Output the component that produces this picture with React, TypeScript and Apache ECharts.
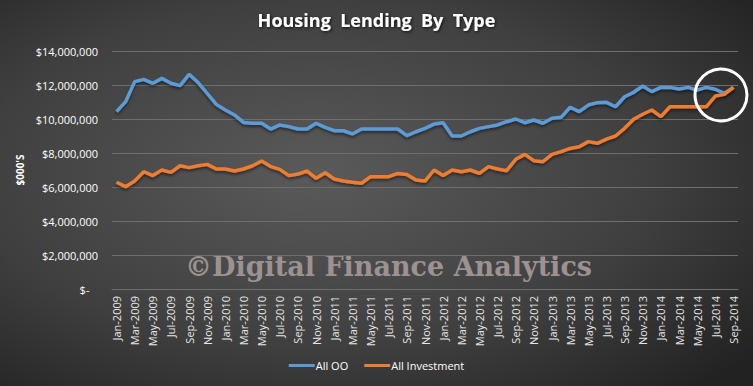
import React, { useEffect, useRef } from "react";
import * as echarts from "echarts";

const months = ["Jan", "Feb", "Mar", "Apr", "May", "Jun", "Jul", "Aug", "Sep", "Oct", "Nov", "Dec"];
const years = [2009, 2010, 2011, 2012, 2013, 2014];
const categories: string[] = [];
years.forEach((y) => months.forEach((m) => { if (!(y === 2014 && months.indexOf(m) > 8)) categories.push(`${m}-${y}`); }));

const allOO = [
  10.43, 11.02, 12.2, 12.33, 12.1, 12.39, 12.1, 11.96, 12.63, 12.14, 11.5, 10.86,
  10.53, 10.24, 9.8, 9.75, 9.75, 9.41, 9.65, 9.55, 9.41, 9.41, 9.75, 9.51,
  9.31, 9.31, 9.12, 9.41, 9.41, 9.41, 9.41, 9.41, 9.02, 9.25, 9.45, 9.7,
  9.78, 9.0, 9.0, 9.25, 9.45, 9.55, 9.65, 9.84, 10.0, 9.78, 9.94, 9.75,
  10.04, 10.1, 10.69, 10.43, 10.82, 10.96, 10.98, 10.72, 11.31, 11.57, 11.94, 11.61,
  11.86, 11.86, 11.76, 11.86, 11.7, 11.86, 11.75, 11.51, 11.86,
].map((v) => v * 1e6);

const allInvestment = [
  6.28, 6.02, 6.35, 6.9, 6.67, 7.0, 6.86, 7.25, 7.14, 7.25, 7.33, 7.06,
  7.06, 6.94, 7.06, 7.25, 7.53, 7.2, 7.04, 6.67, 6.76, 6.94, 6.51, 6.84,
  6.47, 6.35, 6.28, 6.22, 6.61, 6.61, 6.61, 6.8, 6.74, 6.41, 6.35, 7.0,
  6.67, 7.0, 6.9, 7.0, 6.8, 7.2, 7.06, 6.96, 7.63, 7.92, 7.55, 7.49,
  7.92, 8.08, 8.27, 8.37, 8.67, 8.57, 8.82, 9.0, 9.45, 9.98, 10.28, 10.53,
  10.14, 10.72, 10.72, 10.72, 10.72, 10.72, 11.35, 11.45, 11.86,
].map((v) => v * 1e6);

const seriesNames = ["All OO", "All Investment"];
const titleText = "Housing  Lending  By  Type";
const watermark = "©Digital Finance Analytics";
const yAxisName = "$000'S";

const fmt = (v: number) => (v === 0 ? "$-   " : "$" + v.toLocaleString("en-US"));

export default function App() {
  const ref = useRef<HTMLDivElement>(null);
  useEffect(() => {
    const chart = echarts.init(ref.current!, undefined, { renderer: "svg" });
    const font = "'Open Sans', 'Liberation Sans', sans-serif";
    chart.setOption({
      animation: false,
      backgroundColor: new echarts.graphic.RadialGradient(0.42, 0.45, 0.75, [
        { offset: 0, color: "#5a5a5a" },
        { offset: 0.6, color: "#3f3f3f" },
        { offset: 1, color: "#222222" },
      ]),
      title: {
        text: titleText,
        left: "center",
        top: 6,
        textStyle: {
          color: "#ffffff",
          fontFamily: font,
          fontWeight: "bold",
          fontSize: 18,
          textShadowColor: "rgba(0,0,0,0.8)",
          textShadowBlur: 3,
          textShadowOffsetX: 1,
          textShadowOffsetY: 1,
        },
      },
      grid: { left: 112, right: 15, top: 51, bottom: 97, containLabel: false },
      legend: {
        bottom: 10,
        left: "center",
        itemWidth: 26,
        itemHeight: 3,
        itemGap: 16,
        icon: "rect",
        textStyle: { color: "#ffffff", fontFamily: font, fontSize: 11, padding: [0, 0, 0, -4] },
        data: seriesNames,
      },
      xAxis: {
        type: "category",
        data: categories,
        boundaryGap: true,
        axisLine: { show: true, lineStyle: { color: "#6e6e6e", width: 1 } },
        axisTick: { show: false },
        axisLabel: {
          interval: 1,
          rotate: 90,
          color: "#e6e6e6",
          fontFamily: font,
          fontSize: 11,
          margin: 7,
        },
      },
      yAxis: {
        type: "value",
        min: 0,
        max: 14000000,
        interval: 2000000,
        name: yAxisName,
        nameLocation: "middle",
        nameGap: 82,
        nameTextStyle: { color: "#ffffff", fontFamily: font, fontWeight: "bold", fontSize: 10 },
        axisLine: { show: false },
        axisTick: { show: false },
        splitLine: { lineStyle: { color: "#6e6e6e", width: 1 } },
        axisLabel: {
          color: "#ffffff",
          fontFamily: font,
          fontSize: 11,
          margin: 14,
          formatter: fmt,
        },
      },
      series: [
        {
          name: seriesNames[0],
          type: "line",
          data: allOO,
          symbol: "none",
          color: "#5b9bd5",
          lineStyle: { width: 3.5, color: "#5b9bd5", shadowColor: "rgba(0,0,0,0.5)", shadowBlur: 3, shadowOffsetY: 2 },
        },
        {
          name: seriesNames[1],
          type: "line",
          data: allInvestment,
          symbol: "none",
          color: "#ed7d31",
          lineStyle: { width: 3.5, color: "#ed7d31", shadowColor: "rgba(0,0,0,0.5)", shadowBlur: 3, shadowOffsetY: 2 },
        },
      ],
      graphic: [
        {
          type: "text",
          left: 185,
          top: 253,
          z: 0,
          style: {
            text: watermark,
            fill: "#9c9292",
            font: "bold 27px 'DejaVu Serif', serif",
          },
        },
        {
          type: "circle",
          shape: { cx: 721, cy: 95, r: 26 },
          z: 100,
          style: { fill: "none", stroke: "#ffffff", lineWidth: 3 },
        },
      ],
    });
    return () => chart.dispose();
  }, []);
  return <div ref={ref} style={{ width: 753, height: 386, position: "absolute", left: 0, top: 0 }} />;
}
